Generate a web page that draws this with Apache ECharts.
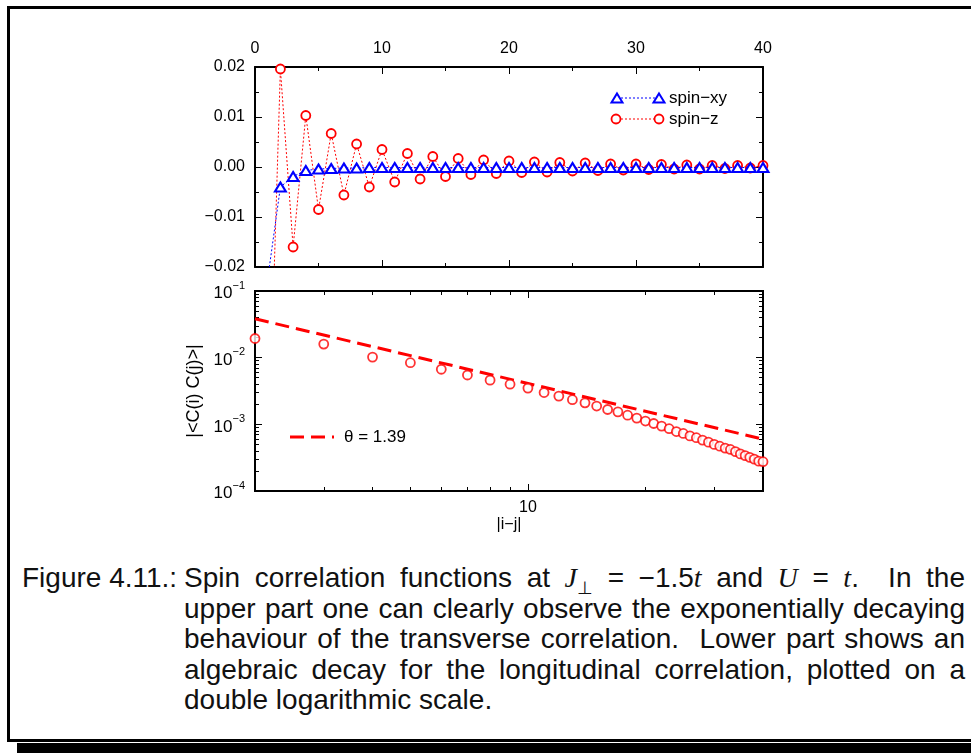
<!DOCTYPE html>
<html>
<head>
<meta charset="utf-8">
<script src="https://cdn.jsdelivr.net/npm/echarts@6/dist/echarts.min.js"></script>
<style>
body{margin:0;background:#fff;width:971px;height:753px;overflow:hidden;position:relative;font-family:'Liberation Sans',Arial,sans-serif}
#frame{position:absolute;left:7px;top:6px;width:1000px;height:730px;border:3px solid #000;border-right:none}
#shadow{position:absolute;left:17px;top:743px;width:960px;height:12px;background:#000}
#chart{position:absolute;left:0;top:0;width:971px;height:545px}
.ln{position:absolute;left:184px;font-size:28px;line-height:30px;color:#111;white-space:nowrap}
.lab{position:absolute;left:22px;top:563px;font-size:28px;line-height:30px;color:#111;white-space:nowrap}
.m{font-family:'Liberation Serif','DejaVu Serif',serif;font-style:italic}
sub{font-size:18px;line-height:0}
</style>
</head>
<body>
<div id="frame"></div>
<div id="shadow"></div>
<div id="chart"></div>
<div class="lab">Figure 4.11.:</div>
<div class="ln" style="top:563px"><span class="t">Spin correlation functions at <span class="m">J</span><sub>⊥</sub> = −1.5<span class="m">t</span> and <span class="m">U</span> = <span class="m">t</span>.&nbsp; In the</span></div>
<div class="ln" style="top:593.5px"><span class="t">upper part one can clearly observe the exponentially decaying</span></div>
<div class="ln" style="top:624px"><span class="t">behaviour of the transverse correlation.&nbsp; Lower part shows an</span></div>
<div class="ln" style="top:654.5px"><span class="t">algebraic decay for the longitudinal correlation, plotted on a</span></div>
<div class="ln last" style="top:685px"><span class="t">double logarithmic scale.</span></div>
<script>
// upper panel: correlation vs distance i-j
const dist = [1,2,3,4,5,6,7,8,9,10,11,12,13,14,15,16,17,18,19,20,
  21,22,23,24,25,26,27,28,29,30,31,32,33,34,35,36,37,38,39,40]
const spinXY = [-0.0224,-0.0040,-0.0019,-0.0007,-0.0004,-0.0003,-0.0002,-0.0002,-0.0001,-0.0001,
  -0.0001,-0.0001,-0.0001,-0.0001,-0.0001,-0.0001,-0.0001,-0.0001,-0.0001,-0.0001,
  -0.0001,-0.0001,-0.0001,-0.0001,-0.0001,-0.0001,-0.0001,-0.0001,-0.0001,-0.0001,
  -0.0001,-0.0001,-0.0001,-0.0001,-0.0001,-0.0001,-0.0001,-0.0001,-0.0001,-0.0001]
const spinZ = [-0.0629,0.0196,-0.0160,0.0103,-0.0085,0.0067,-0.0056,0.0046,-0.0040,0.0035,
  -0.0030,0.0027,-0.0024,0.0021,-0.0019,0.0017,-0.0015,0.0014,-0.0013,0.0012,
  -0.0011,0.0010,-0.0010,0.0009,-0.0008,0.0008,-0.0007,0.0006,-0.0006,0.0006,
  -0.0005,0.0005,-0.0004,0.0004,-0.0004,0.0003,-0.0003,0.0003,-0.0002,0.0003]

// lower panel: |<C(i) C(j)>| on log-log
const logDist = [2,3,4,5,6,7,8,9,10,11,12,13,14,15,16,17,18,19,20,
  21,22,23,24,25,26,27,28,29,30,31,32,33,34,35,36,37,38,39,40]
const absCorr = [0.0194,0.0160,0.0102,0.0084,0.0067,0.0055,0.0046,0.0040,0.0035,0.0030,
  0.00265,0.00234,0.0021,0.00188,0.00167,0.00154,0.00137,0.00124,0.00112,
  0.00103,0.00094,0.00086,0.00078,0.00073,0.00067,0.00063,0.00058,0.00054,0.00050,
  0.00047,0.00044,0.00042,0.00039,0.00036,0.00034,0.00032,0.00030,0.00028,0.000275]
const fitX = [2, 40]
const fitY = [0.0383, 0.00060]

const logXMajor = [10]
const logXMinor = [3,4,5,6,7,8,9,20,30]
const logYMajor = [0.0001, 0.001, 0.01, 0.1]

const RED = '#ff0000', BLUE = '#0000ff'
const FONT = "'Liberation Sans', Arial, sans-serif"

function logYMinor(){
  const out = []
  logYMajor.slice(0, 3).forEach(d => { for(let m=2;m<=9;m++) out.push(+(m*d).toPrecision(3)) })
  return out
}

function linAxis(grid, pos, min, max, interval, labels, fmt){
  return {
    gridIndex: grid, type: 'value', position: pos, min: min, max: max, interval: interval,
    axisLine: {show: true, onZero: false, lineStyle: {color: '#000', width: 2}},
    axisTick: {show: true, inside: true, length: 7, lineStyle: {color: '#000', width: 1}},
    minorTick: {show: true, splitNumber: 2, length: 4, lineStyle: {color: '#000', width: 1}},
    splitLine: {show: false},
    axisLabel: {show: labels, color: '#000', fontSize: 16, fontFamily: FONT, margin: 10, formatter: fmt}
  }
}

function logAxis(grid, pos, min, max, ticks, len, labels, extra){
  const a = {
    gridIndex: grid, type: 'log', logBase: 10, position: pos, min: min, max: max,
    axisLine: {show: true, onZero: false, lineStyle: {color: '#000', width: 2}},
    axisTick: {show: true, inside: true, length: len, customValues: ticks, lineStyle: {color: '#000', width: 1}},
    minorTick: {show: false},
    splitLine: {show: false},
    axisLabel: labels ? Object.assign({show: true, customValues: ticks, color: '#000', fontSize: 16, fontFamily: FONT}, labels)
                      : {show: false}
  }
  return Object.assign(a, extra || {})
}

const chart = echarts.init(document.getElementById('chart'))

const option = {
  animation: false,
  textStyle: {fontFamily: FONT},
  grid: [
    {left: 255, top: 67, width: 508, height: 200},
    {left: 255, top: 291, width: 508, height: 200}
  ],
  xAxis: [
    linAxis(0, 'top', 0, 40, 10, true),
    linAxis(0, 'bottom', 0, 40, 10, false),
    logAxis(1, 'bottom', 2, 40, logXMajor, 7, {margin: 9}, {
      name: '|i−j|', nameLocation: 'middle', nameGap: 25,
      nameTextStyle: {color: '#000', fontSize: 16, fontFamily: FONT}
    }),
    logAxis(1, 'bottom', 2, 40, logXMinor, 4, null),
    logAxis(1, 'top', 2, 40, logXMajor, 7, null),
    logAxis(1, 'top', 2, 40, logXMinor, 4, null)
  ],
  yAxis: [
    linAxis(0, 'left', -0.02, 0.02, 0.01, true, v => v.toFixed(2).replace('-', '−')),
    linAxis(0, 'right', -0.02, 0.02, 0.01, false),
    logAxis(1, 'left', 0.0001, 0.1, logYMajor, 7, {
      margin: 10,
      formatter: v => '{b|10}{e|−' + Math.round(-Math.log10(v)) + '}',
      rich: {
        b: {fontSize: 17, fontFamily: FONT, color: '#000', lineHeight: 22, verticalAlign: 'bottom'},
        e: {fontSize: 11, fontFamily: FONT, color: '#000', lineHeight: 12, verticalAlign: 'top'}
      }
    }, {
      name: '|<C(i) C(j)>|', nameLocation: 'middle', nameGap: 48,
      nameTextStyle: {color: '#000', fontSize: 18, fontFamily: FONT}
    }),
    logAxis(1, 'left', 0.0001, 0.1, logYMinor(), 4, null),
    logAxis(1, 'right', 0.0001, 0.1, logYMajor, 7, null),
    logAxis(1, 'right', 0.0001, 0.1, logYMinor(), 4, null)
  ],
  series: [
    {
      name: 'spin−xy', type: 'line', xAxisIndex: 0, yAxisIndex: 0, clip: true,
      data: dist.map((d, i) => [d, spinXY[i]]),
      symbol: 'triangle', symbolSize: [11, 9],
      itemStyle: {color: '#fff', borderColor: BLUE, borderWidth: 2},
      lineStyle: {color: BLUE, width: 1, type: [2, 2]},
      z: 3
    },
    {
      name: 'spin−z', type: 'line', xAxisIndex: 0, yAxisIndex: 0, clip: true,
      data: dist.map((d, i) => [d, spinZ[i]]),
      symbol: 'circle', symbolSize: 9,
      itemStyle: {color: '#fff', borderColor: RED, borderWidth: 1.8},
      lineStyle: {color: RED, width: 1, type: [2, 2]},
      z: 2
    },
    {
      name: '|C|', type: 'scatter', xAxisIndex: 2, yAxisIndex: 2, clip: false,
      data: logDist.map((d, i) => [d, absCorr[i]]),
      symbol: 'circle', symbolSize: 9,
      itemStyle: {color: '#fff', borderColor: RED, borderWidth: 1.8},
      z: 3
    },
    {
      name: 'θ = 1.39', type: 'line', xAxisIndex: 2, yAxisIndex: 2,
      data: fitX.map((x, i) => [x, fitY[i]]),
      symbol: 'none',
      lineStyle: {color: RED, width: 3, type: [14, 7]},
      z: 2
    }
  ],
  graphic: [
    // key of upper panel
    {type: 'line', shape: {x1: 617, y1: 98, x2: 659, y2: 98}, style: {stroke: BLUE, lineWidth: 1, lineDash: [2, 2]}},
    {type: 'polygon', shape: {points: [[617, 93.5], [622.5, 102.5], [611.5, 102.5]]}, style: {fill: '#fff', stroke: BLUE, lineWidth: 2}},
    {type: 'polygon', shape: {points: [[659, 93.5], [664.5, 102.5], [653.5, 102.5]]}, style: {fill: '#fff', stroke: BLUE, lineWidth: 2}},
    {type: 'text', x: 669, y: 98, style: {text: 'spin−xy', font: '17px ' + FONT, fill: '#000', verticalAlign: 'middle'}},
    {type: 'line', shape: {x1: 617, y1: 119, x2: 659, y2: 119}, style: {stroke: RED, lineWidth: 1, lineDash: [2, 2]}},
    {type: 'circle', shape: {cx: 616, cy: 119, r: 4.5}, style: {fill: '#fff', stroke: RED, lineWidth: 1.8}},
    {type: 'circle', shape: {cx: 659, cy: 119, r: 4.5}, style: {fill: '#fff', stroke: RED, lineWidth: 1.8}},
    {type: 'text', x: 669, y: 119, style: {text: 'spin−z', font: '17px ' + FONT, fill: '#000', verticalAlign: 'middle'}},
    // key of lower panel
    {type: 'line', shape: {x1: 290, y1: 437, x2: 334, y2: 437}, style: {stroke: RED, lineWidth: 3, lineDash: [14, 7]}},
    {type: 'text', x: 344, y: 437, style: {text: 'θ = 1.39', font: '17px ' + FONT, fill: '#000', verticalAlign: 'middle'}}
  ]
}

chart.setOption(option)

// justify caption lines like the printed figure
document.querySelectorAll('.ln').forEach(el => {
  if (el.classList.contains('last')) return
  const sp = el.querySelector('.t')
  const n = (sp.textContent.match(/[ \u00a0]/g) || []).length
  const extra = 781 - sp.getBoundingClientRect().width
  sp.style.wordSpacing = (extra / n) + 'px'
})
</script>
</body>
</html>
